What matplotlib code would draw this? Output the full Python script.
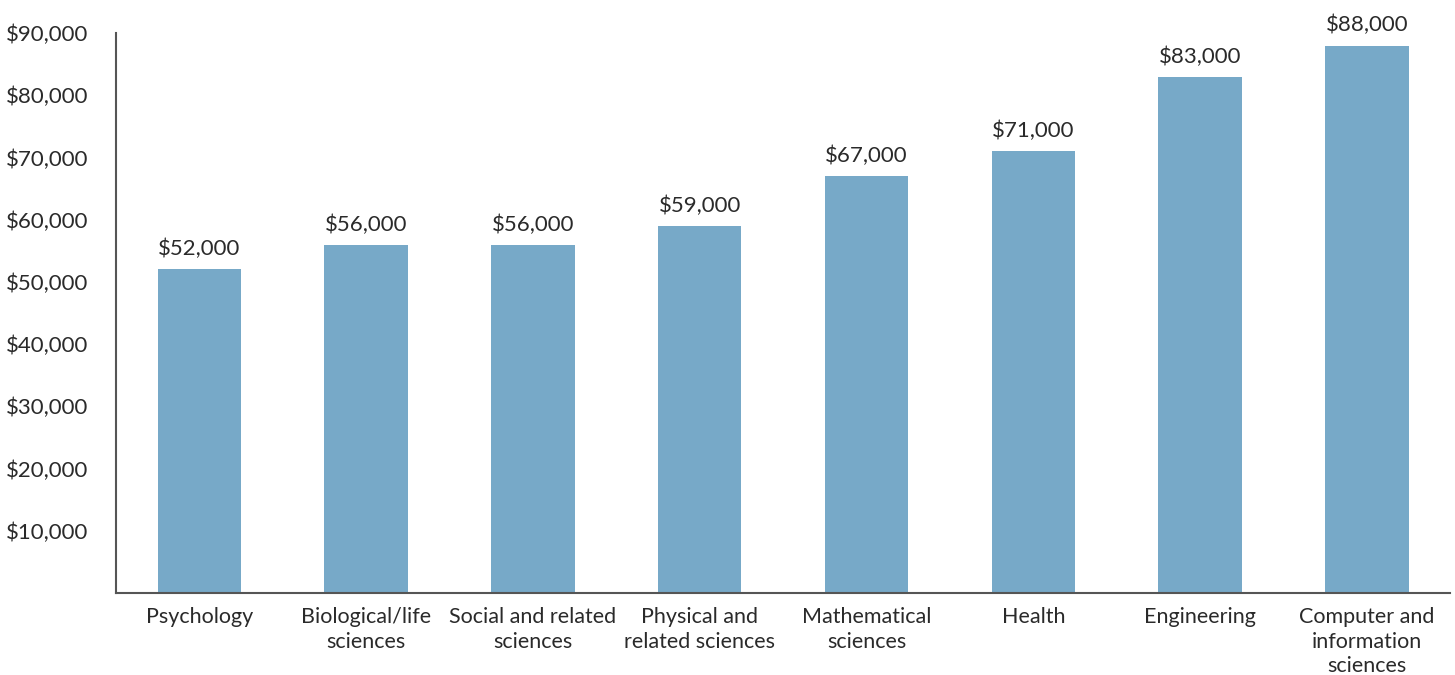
import matplotlib.pyplot as plt
from matplotlib.ticker import FuncFormatter

plt.rcParams['font.family'] = ['Lato', 'DejaVu Sans']

fields = ['Psychology', 'Biological/life\nsciences', 'Social and related\nsciences',
          'Physical and\nrelated sciences', 'Mathematical\nsciences', 'Health',
          'Engineering', 'Computer and\ninformation\nsciences']
salaries = [52000, 56000, 56000, 59000, 67000, 71000, 83000, 88000]

fig = plt.figure(figsize=(14.55, 6.75), dpi=100)
ax = fig.add_axes([0.0797, 0.1215, 0.9170, 0.8295])

x = range(len(fields))
bars = ax.bar(x, salaries, width=0.5, color='#77a9c8')

for b, v in zip(bars, salaries):
    ax.text(b.get_x() + b.get_width() / 2, v + 1600, '${:,}'.format(v),
            ha='center', va='bottom', fontsize=16, color='#2a2a2a')

ax.set_xlim(-0.5, len(fields) - 0.5)
ax.set_ylim(0, 90000)
ax.set_yticks(range(10000, 90001, 10000))
ax.yaxis.set_major_formatter(FuncFormatter(lambda v, p: '${:,.0f}'.format(v)))
ax.set_xticks(list(x))
ax.set_xticklabels(fields, linespacing=1.3, fontsize=15.5)
ax.tick_params(axis='both', length=0, labelcolor='#2a2a2a')
ax.tick_params(axis='y', pad=20, labelsize=16)
ax.tick_params(axis='x', pad=10)

for s in ['top', 'right']:
    ax.spines[s].set_visible(False)
for s in ['left', 'bottom']:
    ax.spines[s].set_color('#555555')
    ax.spines[s].set_linewidth(1.5)

fig.savefig('out.png', dpi=100)
